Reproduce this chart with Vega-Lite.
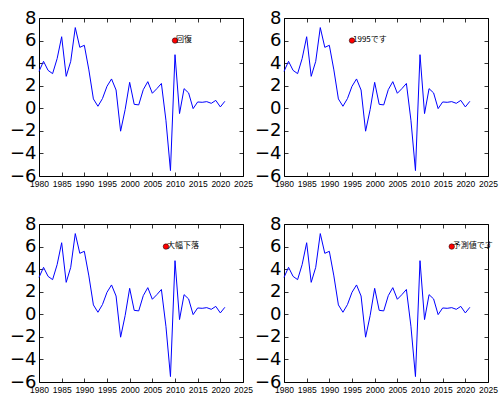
{
  "$schema": "https://vega.github.io/schema/vega-lite/v6.json",
  "padding": {"left": 8, "top": 8, "right": 5, "bottom": 5},
  "background": "white",
  "datasets": {
    "gdp": [
      {"year": 1980, "value": 3.27}, {"year": 1981, "value": 4.16}, {"year": 1982, "value": 3.36},
      {"year": 1983, "value": 3.07}, {"year": 1984, "value": 4.4}, {"year": 1985, "value": 6.34},
      {"year": 1986, "value": 2.83}, {"year": 1987, "value": 4.16}, {"year": 1988, "value": 7.15},
      {"year": 1989, "value": 5.4}, {"year": 1990, "value": 5.58}, {"year": 1991, "value": 3.4},
      {"year": 1992, "value": 0.83}, {"year": 1993, "value": 0.18}, {"year": 1994, "value": 0.86},
      {"year": 1995, "value": 1.95}, {"year": 1996, "value": 2.6}, {"year": 1997, "value": 1.62},
      {"year": 1998, "value": -2.03}, {"year": 1999, "value": -0.12}, {"year": 2000, "value": 2.3},
      {"year": 2001, "value": 0.35}, {"year": 2002, "value": 0.3}, {"year": 2003, "value": 1.65},
      {"year": 2004, "value": 2.36}, {"year": 2005, "value": 1.33}, {"year": 2006, "value": 1.74},
      {"year": 2007, "value": 2.2}, {"year": 2008, "value": -1.06}, {"year": 2009, "value": -5.52},
      {"year": 2010, "value": 4.75}, {"year": 2011, "value": -0.47}, {"year": 2012, "value": 1.74},
      {"year": 2013, "value": 1.36}, {"year": 2014, "value": -0.03}, {"year": 2015, "value": 0.56},
      {"year": 2016, "value": 0.53}, {"year": 2017, "value": 0.59}, {"year": 2018, "value": 0.44},
      {"year": 2019, "value": 0.7}, {"year": 2020, "value": 0.12}, {"year": 2021, "value": 0.62}
    ],
    "notes": [
      {"panel": 1, "year": 2010, "value": 6, "label": "回復"},
      {"panel": 2, "year": 1995, "value": 6, "label": "1995です"},
      {"panel": 3, "year": 2008, "value": 6, "label": "大幅下落"},
      {"panel": 4, "year": 2017, "value": 6, "label": "予測値です"}
    ]
  },
  "columns": 2,
  "spacing": {"row": 48, "column": 41},
  "bounds": "flush",
  "concat": [
    {
      "width": 204, "height": 158,
      "layer": [
        {
          "data": {"name": "gdp"},
          "mark": {"type": "line", "color": "#0000ff", "strokeWidth": 1},
          "encoding": {
            "x": {"field": "year", "type": "quantitative", "title": null,
                  "scale": {"domain": [1980, 2025], "nice": false, "zero": false},
                  "axis": {"orient": "bottom", "values": [1980, 1985, 1990, 1995, 2000, 2005, 2010, 2015, 2020, 2025], "format": "d"}},
            "y": {"field": "value", "type": "quantitative", "title": null,
                  "scale": {"domain": [-6, 8], "nice": false},
                  "axis": {"orient": "left", "values": [-6, -4, -2, 0, 2, 4, 6, 8], "format": "d"}}
          }
        },
        {
          "data": {"name": "notes"},
          "transform": [{"filter": "datum.panel == 1"}],
          "encoding": {
            "x": {"field": "year", "type": "quantitative", "axis": {"orient": "top", "labels": false, "values": [1980, 1985, 1990, 1995, 2000, 2005, 2010, 2015, 2020, 2025]}},
            "y": {"field": "value", "type": "quantitative", "axis": {"orient": "right", "labels": false, "values": [-6, -4, -2, 0, 2, 4, 6, 8]}}
          },
          "layer": [
            {"mark": {"type": "point", "filled": true, "color": "#ff0000", "stroke": "black", "strokeWidth": 0.5, "size": 30, "opacity": 1}},
            {"mark": {"type": "text", "align": "left", "baseline": "alphabetic", "dx": 1, "dy": 1, "font": "Noto Sans CJK JP", "fontSize": 8, "color": "black"},
             "encoding": {"text": {"field": "label"}}}
          ]
        }
      ],
      "resolve": {"axis": {"x": "independent", "y": "independent"}}
    },
    {
      "width": 204, "height": 158,
      "layer": [
        {
          "data": {"name": "gdp"},
          "mark": {"type": "line", "color": "#0000ff", "strokeWidth": 1},
          "encoding": {
            "x": {"field": "year", "type": "quantitative", "title": null,
                  "scale": {"domain": [1980, 2025], "nice": false, "zero": false},
                  "axis": {"orient": "bottom", "values": [1980, 1985, 1990, 1995, 2000, 2005, 2010, 2015, 2020, 2025], "format": "d"}},
            "y": {"field": "value", "type": "quantitative", "title": null,
                  "scale": {"domain": [-6, 8], "nice": false},
                  "axis": {"orient": "left", "values": [-6, -4, -2, 0, 2, 4, 6, 8], "format": "d"}}
          }
        },
        {
          "data": {"name": "notes"},
          "transform": [{"filter": "datum.panel == 2"}],
          "encoding": {
            "x": {"field": "year", "type": "quantitative", "axis": {"orient": "top", "labels": false, "values": [1980, 1985, 1990, 1995, 2000, 2005, 2010, 2015, 2020, 2025]}},
            "y": {"field": "value", "type": "quantitative", "axis": {"orient": "right", "labels": false, "values": [-6, -4, -2, 0, 2, 4, 6, 8]}}
          },
          "layer": [
            {"mark": {"type": "point", "filled": true, "color": "#ff0000", "stroke": "black", "strokeWidth": 0.5, "size": 30, "opacity": 1}},
            {"mark": {"type": "text", "align": "left", "baseline": "alphabetic", "dx": 1, "dy": 1, "font": "Noto Sans CJK JP", "fontSize": 8, "color": "black"},
             "encoding": {"text": {"field": "label"}}}
          ]
        }
      ],
      "resolve": {"axis": {"x": "independent", "y": "independent"}}
    },
    {
      "width": 204, "height": 158,
      "layer": [
        {
          "data": {"name": "gdp"},
          "mark": {"type": "line", "color": "#0000ff", "strokeWidth": 1},
          "encoding": {
            "x": {"field": "year", "type": "quantitative", "title": null,
                  "scale": {"domain": [1980, 2025], "nice": false, "zero": false},
                  "axis": {"orient": "bottom", "values": [1980, 1985, 1990, 1995, 2000, 2005, 2010, 2015, 2020, 2025], "format": "d"}},
            "y": {"field": "value", "type": "quantitative", "title": null,
                  "scale": {"domain": [-6, 8], "nice": false},
                  "axis": {"orient": "left", "values": [-6, -4, -2, 0, 2, 4, 6, 8], "format": "d"}}
          }
        },
        {
          "data": {"name": "notes"},
          "transform": [{"filter": "datum.panel == 3"}],
          "encoding": {
            "x": {"field": "year", "type": "quantitative", "axis": {"orient": "top", "labels": false, "values": [1980, 1985, 1990, 1995, 2000, 2005, 2010, 2015, 2020, 2025]}},
            "y": {"field": "value", "type": "quantitative", "axis": {"orient": "right", "labels": false, "values": [-6, -4, -2, 0, 2, 4, 6, 8]}}
          },
          "layer": [
            {"mark": {"type": "point", "filled": true, "color": "#ff0000", "stroke": "black", "strokeWidth": 0.5, "size": 30, "opacity": 1}},
            {"mark": {"type": "text", "align": "left", "baseline": "alphabetic", "dx": 1, "dy": 1, "font": "Noto Sans CJK JP", "fontSize": 8, "color": "black"},
             "encoding": {"text": {"field": "label"}}}
          ]
        }
      ],
      "resolve": {"axis": {"x": "independent", "y": "independent"}}
    },
    {
      "width": 204, "height": 158,
      "layer": [
        {
          "data": {"name": "gdp"},
          "mark": {"type": "line", "color": "#0000ff", "strokeWidth": 1},
          "encoding": {
            "x": {"field": "year", "type": "quantitative", "title": null,
                  "scale": {"domain": [1980, 2025], "nice": false, "zero": false},
                  "axis": {"orient": "bottom", "values": [1980, 1985, 1990, 1995, 2000, 2005, 2010, 2015, 2020, 2025], "format": "d"}},
            "y": {"field": "value", "type": "quantitative", "title": null,
                  "scale": {"domain": [-6, 8], "nice": false},
                  "axis": {"orient": "left", "values": [-6, -4, -2, 0, 2, 4, 6, 8], "format": "d"}}
          }
        },
        {
          "data": {"name": "notes"},
          "transform": [{"filter": "datum.panel == 4"}],
          "encoding": {
            "x": {"field": "year", "type": "quantitative", "axis": {"orient": "top", "labels": false, "values": [1980, 1985, 1990, 1995, 2000, 2005, 2010, 2015, 2020, 2025]}},
            "y": {"field": "value", "type": "quantitative", "axis": {"orient": "right", "labels": false, "values": [-6, -4, -2, 0, 2, 4, 6, 8]}}
          },
          "layer": [
            {"mark": {"type": "point", "filled": true, "color": "#ff0000", "stroke": "black", "strokeWidth": 0.5, "size": 30, "opacity": 1}},
            {"mark": {"type": "text", "align": "left", "baseline": "alphabetic", "dx": 1, "dy": 1, "font": "Noto Sans CJK JP", "fontSize": 8, "color": "black"},
             "encoding": {"text": {"field": "label"}}}
          ]
        }
      ],
      "resolve": {"axis": {"x": "independent", "y": "independent"}}
    }
  ],
  "config": {
    "view": {"stroke": "black", "strokeWidth": 1},
    "axis": {
      "grid": false, "domain": false, "title": null,
      "ticks": true, "tickColor": "black", "tickSize": -4, "tickWidth": 0.8,
      "labelColor": "black", "labelOverlap": false, "labelFlush": false
    },
    "axisX": {"labelFont": "Liberation Sans", "labelFontSize": 8.5, "labelPadding": 7},
    "axisY": {"labelFont": "DejaVu Sans", "labelFontSize": 18, "labelPadding": 7}
  }
}
